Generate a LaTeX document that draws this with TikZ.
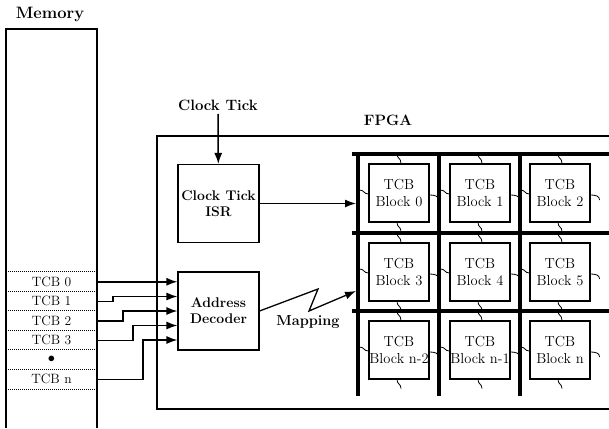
\documentclass[tikz,border=0pt]{standalone}
\usepackage{fontspec}
\usetikzlibrary{arrows.meta,calc}

\begin{document}
\begin{tikzpicture}[
  x=1pt, y=-1pt,
  font=\fontsize{13.5}{15}\selectfont,
  lbl/.style={font=\fontsize{15}{17}\selectfont\bfseries},
  unit/.style={draw, line width=1.1pt, minimum width=81pt, minimum height=78pt, inner sep=0pt, align=center, font=\fontsize{14}{16}\selectfont\bfseries},
  blk/.style={draw, line width=1.1pt, minimum width=60pt, minimum height=58pt, inner sep=0pt, align=center, font=\fontsize{14.5}{16.5}\selectfont},
  row/.style={minimum width=91pt, minimum height=19.5pt, inner sep=0pt},
  feed/.style={-{Latex[length=11pt,width=8pt]}, line width=1.5pt},
  bus/.style={line width=4pt},
  wire/.style={line width=0.8pt},
  sep/.style={densely dotted, line width=1pt}
]

\useasboundingbox (0,0) rectangle (609,428);

% Memory column and its TCB rows.
\node[lbl, font=\fontsize{16.5}{18}\selectfont\bfseries] (memlbl) at (50,14) {Memory};
\draw[line width=1.1pt] (6,428) -- (6,29) -- (97,29) -- (97,428);

\foreach \name/\txt [count=\i from 0] in {tcb0/TCB 0, tcb1/TCB 1, tcb2/TCB 2, tcb3/TCB 3, tcbdot/$\bullet$, tcbn/TCB n}
{
  \node[row] (\name) at (51.5,{281.75+19.5*\i}) {\txt};
  \draw[sep] (\name.north west) -- (\name.north east);
}
\draw[sep] (tcbn.south west) -- (tcbn.south east);

% FPGA frame.
\node[lbl] (fpgalbl) at (388,120) {FPGA};
\draw[line width=1.2pt] (609,136) -- (157,136) -- (157,409) -- (609,409);

% Clock tick and ISR.
\node[lbl] (clk) at (218,105) {Clock Tick};
\node[unit] (isr) at (218.5,203.5) {Clock Tick\\ISR};
\draw[feed] (clk) -- (isr);

% Address decoder and its inputs.
\node[unit] (dec) at (218.5,311) {Address\\Decoder};
\coordinate (in1) at ([yshift=14.5pt]dec.west);
\coordinate (in2) at (dec.west);
\coordinate (in3) at ([yshift=-14.5pt]dec.west);
\coordinate (in4) at ([yshift=-29pt]dec.west);

\draw[feed] (tcb0.east) -- (tcb0.east -| dec.west);
\draw[feed] (tcb1.east) -- ++(16,0) |- (in1);
\draw[feed] (tcb2.east) -- ++(26,0) |- (in2);
\draw[feed] (tcb3.east) -- ++(36,0) |- (in3);
\draw[feed] (tcbn.east) -- ++(46,0) |- (in4);

% Bus grid.
\foreach \x [count=\c from 0] in {358,439,520}
{
  \draw[bus] (\x,152) -- (\x,396);
  \coordinate (col\c) at (\x,152);
}
\foreach \y in {154,233,311}
  \draw[bus] (352,\y) -- (609,\y);

% TCB blocks.
\foreach \name/\x/\y/\txt in {blk0/399/193/Block 0, blk1/480/193/Block 1, blk2/560/193/Block 2,
                             blk3/399/272/Block 3, blk4/480/272/Block 4, blk5/560/272/Block 5,
                             blk6/399/350/Block n-2, blk7/480/350/Block n-1, blk8/560/350/Block n}
{
  \node[blk] (\name) at (\x,\y) {TCB\\\txt};
  \draw[wire] ([shift={(-2pt,10pt)}]\name.north) .. controls +(0pt,-6pt) and +(0pt,6pt) .. ([shift={(2pt,0pt)}]\name.north);
  \draw[wire] ([shift={(-2pt,0pt)}]\name.south) .. controls +(0pt,-5pt) and +(0pt,5pt) .. ([shift={(2pt,-9pt)}]\name.south);
  \draw[wire] ([shift={(-9pt,3pt)}]\name.west) .. controls +(5pt,0pt) and +(-5pt,0pt) .. ([shift={(0pt,-1pt)}]\name.west);
  \draw[wire] ([yshift=-2pt]\name.east) .. controls +(5pt,0pt) and +(0pt,4pt) .. ([shift={(9pt,-7pt)}]\name.east);
}

% ISR to grid, decoder mapping.
\draw[feed, shorten >=2pt] (isr.east) -- (isr.east -| col0);
\coordinate (zz1) at (318,289);
\coordinate (zz2) at (309,311);
\coordinate (mapend) at (356,291);
\draw[feed, line width=1.3pt] (dec.east) -- (zz1) -- (zz2) -- (mapend);
\node[lbl, font=\fontsize{14.5}{16}\selectfont\bfseries] (maplbl) at (308,322) {Mapping};

\end{tikzpicture}
\end{document}
